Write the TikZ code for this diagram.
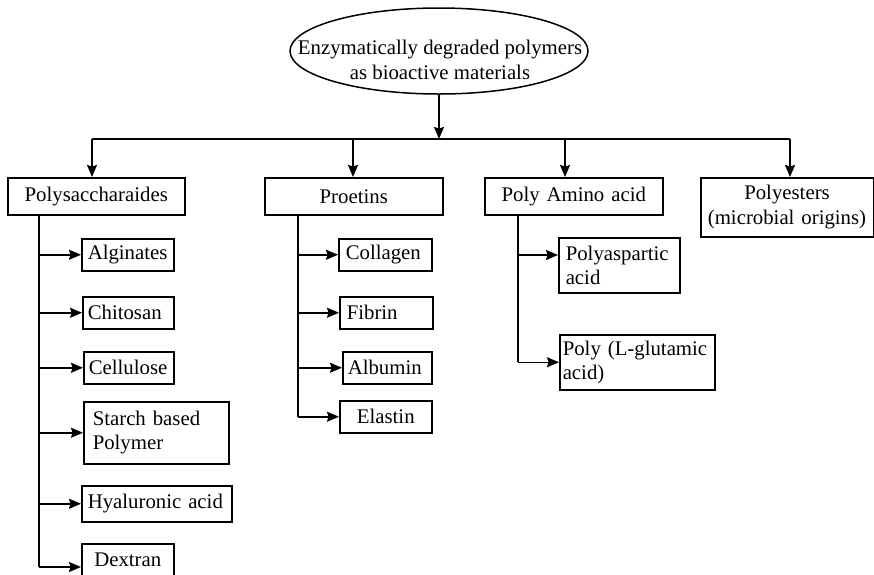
\documentclass[tikz,border=0pt]{standalone}
\usepackage{fontspec}
\setmainfont{Liberation Serif}
\usetikzlibrary{arrows.meta,shapes.geometric}
\newcommand\mybox[8]{%
  \node[box, anchor=north west, inner xsep=#6pt,
        text width={(#4-#2-2*#6)*1pt}, minimum height={(#5-#3)*1pt},
        align=#7] (#1) at (#2,#3) {#8};}
\tikzset{
  every node/.style={font=\fontsize{20.8}{24.5}\selectfont, text=black},
  box/.style={draw, line width=1.5pt, inner ysep=0pt},
  ln/.style={line width=1.5pt},
  arr/.style={line width=1.5pt, -{Stealth[length=12pt,width=10pt,inset=1.5pt]}}
}
\begin{document}
\begin{tikzpicture}[x=1pt,y=-1pt]
\useasboundingbox (0,0) rectangle (874,574);
% root
\node[draw, ellipse, line width=1.5pt, minimum width=298pt, minimum height=86pt, inner sep=0pt] (root) at (439,51) {};
\node[align=center, inner sep=0pt] (roottxt) at (440,60) {Enzymatically degraded polymers\\as bioactive materials};
% level 1
\mybox{polys}{7}{177}{184}{214}{4}{center}{Polysaccharaides}
\mybox{prot}{264}{177}{442}{214}{4}{center}{Proetins}
\mybox{paa}{484}{177}{662}{214}{4}{center}{Poly Amino acid}
\mybox{pest}{700}{177}{872.5}{236}{2}{center}{Polyesters\\(microbial origins)}
% polysaccharides
\mybox{alg}{81}{238}{173}{270}{6}{left}{Alginates}
\mybox{chi}{82}{296}{173}{328}{5}{left}{Chitosan}
\mybox{cel}{83}{351}{173}{383}{5}{left}{Cellulose}
\mybox{sta}{83}{401}{228}{463}{9}{left}{Starch based\\Polymer}
\mybox{hya}{81}{485}{231}{521}{6}{left}{Hyaluronic acid}
\mybox{dex}{81}{543}{173}{575}{4}{center}{Dextran}
\draw[box] (dex.south west) -- ++(0,20) (dex.south east) -- ++(0,20);
% proteins
\mybox{col}{338}{238}{431}{270}{7}{left}{Collagen}
\mybox{fib}{339}{296}{432}{328}{7}{left}{Fibrin}
\mybox{alb}{342}{351}{431}{383}{5}{left}{Albumin}
\mybox{ela}{339}{400}{431}{432}{4}{center}{Elastin}
% poly amino acid
\mybox{pasp}{558}{237}{679}{292}{7}{left}{Polyaspartic\\acid}
\mybox{pglu}{559}{334}{714}{389}{3}{left}{\mbox{Poly (L-glutamic}\\acid)}
% bar and drops
\coordinate (d1) at (92,139);
\coordinate (d2) at (353,139);
\coordinate (d3) at (565,139);
\coordinate (d4) at (790,139);
\draw[arr] (root.south) -- (root.south |- d1);
\draw[ln] (d1) -- (d4);
\draw[arr] (d1) -- (d1 |- polys.north);
\draw[arr] (d2) -- (d2 |- prot.north);
\draw[arr] (d3) -- (d3 |- paa.north);
\draw[arr] (d4) -- (d4 |- pest.north);
% trunks
\coordinate (tA) at (39,0);
\coordinate (tB) at (298,0);
\coordinate (tC) at (518,0);
\coordinate (ydex) at (0,567);
\coordinate (ypasp) at (0,255);
\draw[ln] (tA |- polys.south) -- (tA |- ydex);
\draw[arr] (tA |- alg.west) -- (alg.west);
\draw[arr] (tA |- chi.west) -- (chi.west);
\draw[arr] (tA |- cel.west) -- (cel.west);
\draw[arr] (tA |- sta.west) -- (sta.west);
\draw[arr] (tA |- hya.west) -- (hya.west);
\draw[arr] (tA |- ydex) -- (dex.west |- ydex);
\draw[ln] (tB |- prot.south) -- (tB |- ela.west);
\draw[arr] (tB |- col.west) -- (col.west);
\draw[arr] (tB |- fib.west) -- (fib.west);
\draw[arr] (tB |- alb.west) -- (alb.west);
\draw[arr] (tB |- ela.west) -- (ela.west);
\draw[ln] (tC |- paa.south) -- (tC |- pglu.west);
\draw[arr] (tC |- ypasp) -- (pasp.west |- ypasp);
\draw[arr] (tC |- pglu.west) -- (pglu.west);
\end{tikzpicture}
\end{document}
